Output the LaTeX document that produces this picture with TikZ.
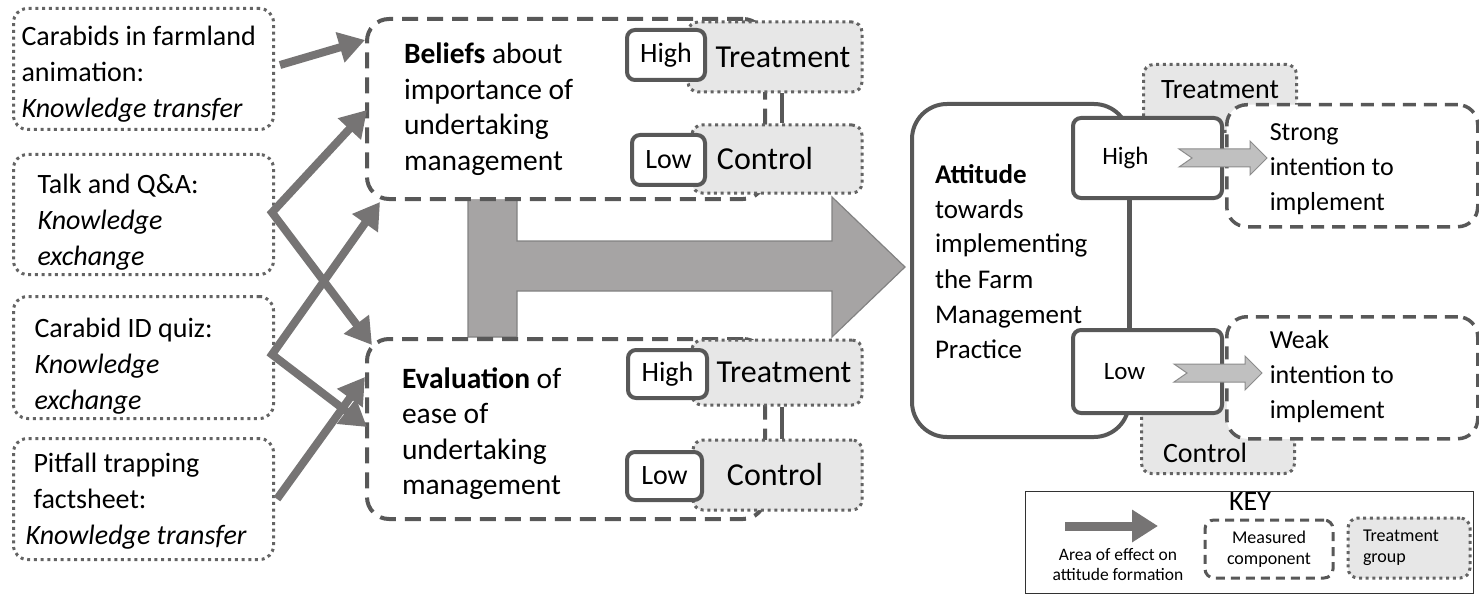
\documentclass[tikz,border=0pt]{standalone}
\usepackage{fontspec}
\setmainfont{Carlito}
\usetikzlibrary{arrows.meta,calc}
\definecolor{linegray}{RGB}{88,88,88}
\definecolor{dotgray}{RGB}{100,100,100}
\definecolor{arrgray}{RGB}{118,116,116}
\definecolor{fillgray}{RGB}{231,231,231}
\definecolor{bigfill}{RGB}{166,164,164}
\definecolor{bigline}{RGB}{130,130,130}
\definecolor{blockfill}{RGB}{192,192,192}
\definecolor{blockline}{RGB}{140,140,140}
\definecolor{keyline}{RGB}{50,50,50}
\begin{document}
\begin{tikzpicture}[x=1pt,y=-1pt,
  srcbox/.style={draw=dotgray, line width=3pt, dash pattern=on 3pt off 3.7pt,
    rounded corners=14pt, fill=white, anchor=north west, inner ysep=0pt,
    align=flush left, font=\fontsize{28}{36}\selectfont},
  measbox/.style={draw=linegray, line width=4pt, dash pattern=on 16pt off 9pt,
    rounded corners=22pt, fill=white, anchor=north west, inner ysep=0pt,
    align=flush left, font=\fontsize{29.5}{35.5}\selectfont},
  intbox/.style={draw=linegray, line width=3.5pt, dash pattern=on 13pt off 8pt,
    rounded corners=20pt, fill=white, anchor=north west, inner ysep=0pt,
    align=flush left, font=\fontsize{26}{35}\selectfont},
  grpbox/.style={draw=dotgray, fill=fillgray, line width=3pt,
    dash pattern=on 3pt off 3.7pt, rounded corners=10pt, inner sep=0pt,
    font=\fontsize{32}{36}\selectfont},
  levbox/.style={draw=linegray, fill=white, line width=4pt, rounded corners=8pt,
    inner sep=0pt, font=\fontsize{28}{32}\selectfont},
  conn/.style={draw=linegray, line width=4pt},
  effarrow/.style={draw=arrgray, line width=8pt, line join=miter,
    -{Triangle[length=26pt,width=30pt]}},
  effarrowtwo/.style={draw=arrgray, line width=8pt, line join=miter,
    {Triangle[length=26pt,width=30pt]}-{Triangle[length=26pt,width=30pt]}},
  blockarrow/.style={fill=blockfill, draw=blockline, line width=1pt},
]
\useasboundingbox (0,0) rectangle (1479,596);

% big area arrow
\draw[fill=bigfill, draw=bigline, line width=1.2pt]
  (468,197) -- (517,197) -- (517,241) -- (832,241) -- (832,197) -- (905,267)
  -- (832,337) -- (832,291) -- (517,291) -- (517,337) -- (468,337) -- cycle;

% source boxes
\node[srcbox, minimum width=260pt, text width=244pt, inner xsep=8pt,
  text height=37pt, text depth=84pt] (n1) at (12,7)
  {Carabids in farmland\\animation:\\\textit{Knowledge transfer}};
\node[srcbox, minimum width=260pt, text width=212pt, inner xsep=24pt,
  text height=39pt, text depth=81pt] (n2) at (12,153)
  {Talk and Q\&A:\\\textit{Knowledge}\\\textit{exchange}};
\node[srcbox, minimum width=260pt, text width=218pt, inner xsep=21pt,
  text height=41pt, text depth=81pt] (n3) at (12,295)
  {Carabid ID quiz:\\\textit{Knowledge}\\\textit{exchange}};
\node[srcbox, minimum width=260pt, text width=236pt, inner xsep=12pt,
  text height=34pt, text depth=87pt] (n4) at (12,437)
  {\hspace*{8pt}Pitfall trapping\\\hspace*{8pt}factsheet:\\\textit{Knowledge transfer}};

% measured components
\node[measbox, minimum width=398pt, text width=324pt, inner xsep=37pt,
  text height=45pt, text depth=135pt] (bel) at (365,17)
  {\textbf{Beliefs} about\\importance of\\undertaking\\management};
\node[measbox, minimum width=398pt, text width=328pt, inner xsep=35pt,
  text height=49pt, text depth=131pt] (eval) at (365,337)
  {\textbf{Evaluation} of\\ease of\\undertaking\\management};

% groups in beliefs
\node[grpbox, minimum width=174pt, minimum height=70pt] (bt) at (775,57) {\hspace*{16pt}Treatment};
\node[grpbox, minimum width=170pt, minimum height=68pt] (bc) at (777,159) {Control\hspace*{24pt}};
\node[levbox, minimum width=78pt, minimum height=50pt] (bh) at (666,55) {High};
\node[levbox, minimum width=73pt, minimum height=50pt] (bl) at (668.5,160) {Low};
\draw[conn] ([xshift=7pt]bt.south) -- ([xshift=7pt]bt.south |- bc.north);

% groups in evaluation
\node[grpbox, minimum width=170pt, minimum height=65pt] (et) at (777,372.5) {\hspace*{14pt}Treatment};
\node[grpbox, minimum width=169pt, minimum height=70pt] (ec) at (777.5,475) {Control\hspace*{5pt}};
\node[levbox, minimum width=79pt, minimum height=48pt] (eh) at (667.5,374) {High};
\node[levbox, minimum width=75pt, minimum height=48pt] (el) at (664.5,476) {Low};
\draw[conn] ([xshift=5pt]et.south) -- ([xshift=5pt]et.south |- ec.north);

% effect arrows
\draw[effarrow] ($(n1.east)+(5,-4)$) -- ($(bel.west)+(0,-69)$);
\draw[effarrowtwo] ($(bel.west)+(2,1)$) -- ($(n2.east)+(-3,-2)$) -- ($(eval.north west)+(7,8)$);
\draw[effarrowtwo] ($(bel.south west)+(15,1)$) -- ($(n3.east)+(-3,-3)$) -- ($(eval.west)+(2,-2)$);
\draw[effarrow] ($(n4.east)+(2,0)$) -- ($(eval.west)+(0,-52)$);

% attitude side
\node[grpbox, anchor=north west, minimum width=153pt, text height=34pt, text depth=33pt,
  font=\fontsize{28}{32}\selectfont] (rt) at (1142,63) {Treatment};
\node[grpbox, anchor=north west, minimum width=153pt, text height=61pt, text depth=11pt,
  font=\fontsize{28}{32}\selectfont] (rc) at (1140,400) {Control\hspace*{26pt}};
\node[draw=linegray, line width=4pt, rounded corners=35pt, fill=white, anchor=north west,
  inner ysep=0pt, align=flush left, font=\fontsize{27}{35}\selectfont,
  minimum width=217pt, text width=171pt, inner xsep=23pt,
  text height=79pt, text depth=254pt] (att) at (910,102)
  {\textbf{Attitude}\\towards\\implementing\\the Farm\\Management\\Practice};
\node[levbox, minimum width=149pt, minimum height=80pt, font=\fontsize{25}{30}\selectfont]
  (rh) at (1147.5,158) {High\hspace*{44pt}};
\node[levbox, minimum width=149pt, minimum height=83pt, font=\fontsize{25}{30}\selectfont]
  (rl) at (1147.5,371.5) {Low\hspace*{46pt}};
\draw[conn] ([xshift=-17.5pt]rh.south) -- ([xshift=-17.5pt]rh.south |- rl.north);
\node[intbox, minimum width=251pt, text width=165pt, inner xsep=43pt,
  text height=36pt, text depth=86pt] (strong) at (1225,103)
  {Strong\\intention to\\implement};
\node[intbox, minimum width=251pt, text width=165pt, inner xsep=43pt,
  text height=32pt, text depth=90pt] (weak) at (1225,315)
  {Weak\\intention to\\implement};

\begin{scope}[shift={(rh.east)}]
\draw[blockarrow] (-45,-9) -- (26,-9) -- (26,-17) -- (43,0) -- (26,17) -- (26,9)
  -- (-45,9) -- (-32,0) -- cycle;
\end{scope}
\begin{scope}[shift={(rl.east)}]
\draw[blockarrow] (-50,-7.5) -- (21,-7.5) -- (21,-15.5) -- (38,1.5) -- (21,18.5) -- (21,10.5)
  -- (-50,10.5) -- (-37,1.5) -- cycle;
\end{scope}

% key
\node[draw=keyline, line width=1.3pt, anchor=north west, minimum width=448pt,
  minimum height=102pt, inner sep=0pt] (key) at (1025,491) {};
\node[font=\fontsize{28}{30}\selectfont, inner sep=0pt] (keyt) at (1250,502) {KEY};
\coordinate (ka) at (1065,526);
\coordinate (kb) at (1158,526);
\draw[draw=arrgray, line width=9pt, -{Triangle[length=26pt,width=31pt]}] (ka) -- (kb);
\node[font=\fontsize{17.5}{20}\selectfont, align=center, inner sep=0pt] (kat) at (1118,565)
  {Area of effect on\\attitude formation};
\node[draw=linegray, line width=3pt, dash pattern=on 9pt off 6pt, rounded corners=9pt,
  minimum width=128pt, minimum height=58pt, inner sep=0pt, align=center,
  font=\fontsize{18}{21}\selectfont] (km) at (1269,549) {Measured\\component};
\node[grpbox, minimum width=122pt, minimum height=60pt, text width=92pt, inner xsep=15pt,
  align=flush left, font=\fontsize{18}{21}\selectfont] (kg) at (1409,548) {Treatment\\group};
\end{tikzpicture}
\end{document}
